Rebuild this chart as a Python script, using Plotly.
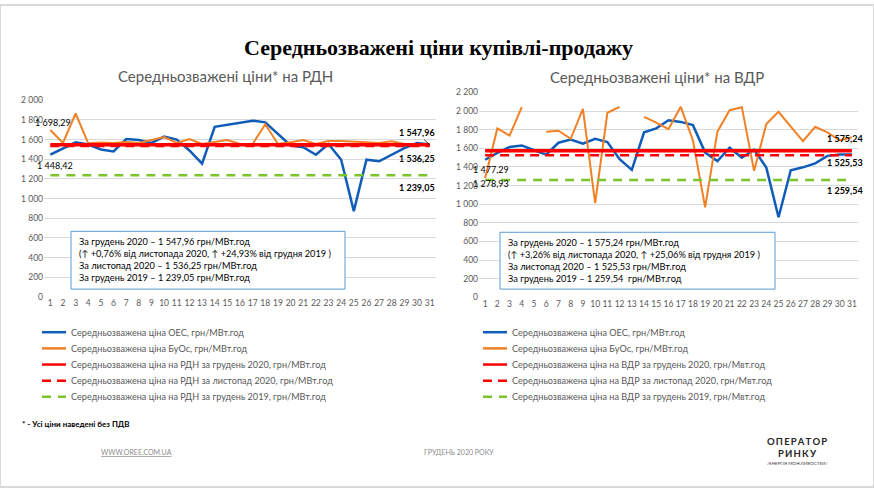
#!/usr/bin/env python3
# -*- coding: utf-8 -*-
"""
Середньозважені ціни купівлі-продажу: РДН та ВДР, грудень 2020
"""

import plotly.graph_objects as go

# Дні місяця
days = list(range(1, 32))

# РДН: ціна ОЕС та БуОс, грн/МВт.год
rdn_oes = [1448.42, 1513, 1573, 1550, 1500, 1480, 1606, 1596, 1566, 1630, 1600, 1490, 1356, 1730, 1750, 1773,
           1793, 1776, 1656, 1540, 1523, 1446, 1556, 1396, 873, 1396, 1380, 1446, 1513, 1566, 1550]
rdn_buos = [1698.29, 1566, 1866, 1563, 1570, 1566, 1576, 1566, 1596, 1626, 1566, 1606, 1556, 1573, 1596, 1556,
            1556, 1756, 1556, 1573, 1596, 1556, 1586, 1586, 1576, 1573, 1566, 1583, 1556, 1550, 1556]

# ВДР: ціна ОЕС та БуОс (пропуски там, де торгів не було)
vdr_oes = [1477.29, 1551, 1614, 1631, 1579, 1533, 1660, 1695, 1649, 1702, 1667, 1484, 1368, 1772, 1814, 1902,
           1884, 1849, 1554, 1463, 1607, 1498, 1586, 1393, 860, 1365, 1396, 1439, 1519, 1533, 1533]
vdr_buos = [1278.93, 1814, 1737, 2042, None, 1779, 1789, 1702, 2025, 1010, 1982, 2046, None, 1937, 1877, 1807,
            2046, 1684, 965, 1779, 2010, 2042, 1358, 1860, 1993, 1832, 1677, 1832, 1772, 1684, 1719]

# Середні за періоди
rdn_dec2020, rdn_nov2020, rdn_dec2019 = 1547.96, 1536.25, 1239.05
vdr_dec2020, vdr_nov2020, vdr_dec2019 = 1575.24, 1525.53, 1259.54

rdn_legend = [
    "Середньозважена ціна ОЕС, грн/МВт.год",
    "Середньозважена ціна БуОс, грн/МВт.год",
    "Середньозважена ціна на РДН за грудень 2020, грн/МВт.год",
    "Середньозважена ціна на РДН за листопад 2020, грн/МВт.год",
    "Середньозважена ціна на РДН за грудень 2019, грн/МВт.год",
]
vdr_legend = [
    "Середньозважена ціна ОЕС, грн/МВт.год",
    "Середньозважена ціна БуОс, грн/МВт.год",
    "Середньозважена ціна на ВДР за грудень 2020, грн/Мвт.год",
    "Середньозважена ціна на ВДР за листопад 2020, грн/Мвт.год",
    "Середньозважена ціна на ВДР за грудень 2019, грн/Мвт.год",
]
rdn_box = [
    "За грудень 2020 – 1 547,96 грн/МВт.год",
    "(↑ +0,76% від листопада 2020, ↑ +24,93% від грудня 2019 )",
    "За листопад 2020 – 1 536,25 грн/МВт.год",
    "За грудень 2019 – 1 239,05 грн/МВт.год",
]
vdr_box = [
    "За грудень 2020 – 1 575,24 грн/МВт.год",
    "(↑ +3,26% від листопада 2020, ↑ +25,06% від грудня 2019 )",
    "За листопад 2020 – 1 525,53 грн/МВт.год",
    "За грудень 2019 – 1 259,54  грн/МВт.год",
]

W, H = 874, 492
FONT = "Lato"
GREY = "#595959"
BLUE = "#0F5DB8"
ORANGE = "#F28025"
RED = "#FF0000"
GREEN = "#7CC42C"


def px(x):
    return x / W


def py(y):
    return 1 - y / H


def fmt(v):
    """1698.29 -> '1 698,29'"""
    return f"{v:,.2f}".replace(",", " ").replace(".", ",")


def note(text, x, y, size, color=GREY, family=FONT, xanchor="center"):
    """Текст у координатах пікселів сторінки"""
    return dict(text=text, x=px(x), y=py(y), xref="paper", yref="paper", xanchor=xanchor,
                yanchor="middle", showarrow=False, font=dict(family=family, size=size, color=color))


# стилі п'яти серій
styles = [
    dict(color=BLUE, width=2.5),
    dict(color=ORANGE, width=2),
    dict(color=RED, width=3.5),
    dict(color=RED, width=2.5, dash="9px,6px"),
    dict(color=GREEN, width=2.5, dash="9px,7px"),
]

fig = go.Figure()


def add_panel(xa, ya, oes, buos, dec20, nov20, dec19, names):
    series = [oes, buos, [dec20] * len(days), [nov20] * len(days), [dec19] * len(days)]
    for s, st, nm in zip(series, styles, names):
        fig.add_trace(go.Scatter(
            x=days, y=s, mode="lines", name=nm, line=st,
            connectgaps=False, xaxis=xa, yaxis=ya, showlegend=False,
        ))


add_panel("x", "y", rdn_oes, rdn_buos, rdn_dec2020, rdn_nov2020, rdn_dec2019, rdn_legend)
add_panel("x2", "y2", vdr_oes, vdr_buos, vdr_dec2020, vdr_nov2020, vdr_dec2019, vdr_legend)

axis_x = dict(tickvals=days, range=[0.5, 31.5], showgrid=False, zeroline=False, showline=False,
              ticks="", tickfont=dict(family=FONT, size=8.5, color=GREY))
axis_y = dict(dtick=200, tickformat=",d", showgrid=True, gridcolor="#D9D9D9", gridwidth=1,
              zeroline=False, showline=False, ticks="", tickfont=dict(family=FONT, size=8.5, color=GREY))

fig.update_layout(
    width=W, height=H,
    margin=dict(l=0, r=0, t=0, b=0),
    paper_bgcolor="white", plot_bgcolor="white",
    separators=", ",
    showlegend=False,
    xaxis=dict(axis_x, domain=[px(44), px(436)], anchor="y"),
    yaxis=dict(axis_y, domain=[py(298), py(97.3)], range=[0, 2000], anchor="x"),
    xaxis2=dict(axis_x, domain=[px(479), px(858)], anchor="y2"),
    yaxis2=dict(axis_y, domain=[py(298.3), py(89.3)], range=[0, 2200], anchor="x2"),
)

ann = []

# заголовки
ann.append(note("<b>Середньозважені ціни купівлі-продажу</b>", 438, 43, 22, "black", "Liberation Serif"))
ann.append(note("Середньозважені ціни* на РДН", 225, 72, 15))
ann.append(note("Середньозважені ціни* на ВДР", 657, 74, 15))

# підписи значень
lab = dict(showarrow=False, xanchor="center", yanchor="middle", font=dict(family=FONT, size=9, color="black"))
ann += [
    dict(lab, text=fmt(rdn_buos[0]), x=1, y=rdn_buos[0], xref="x", yref="y", xshift=3, yshift=7),
    dict(lab, text=fmt(rdn_oes[0]), x=1, y=rdn_oes[0], xref="x", yref="y", xshift=5, yshift=-11),
    dict(lab, text="<b>" + fmt(rdn_dec2020) + "</b>", x=31, y=rdn_dec2020, xref="x", yref="y",
         showarrow=True, arrowhead=0, arrowwidth=0.8, arrowcolor="black", ax=-13, ay=-12),
    dict(lab, text="<b>" + fmt(rdn_nov2020) + "</b>", x=31, y=rdn_nov2020, xref="x", yref="y",
         xshift=-13, yshift=-13),
    dict(lab, text="<b>" + fmt(rdn_dec2019) + "</b>", x=31, y=rdn_dec2019, xref="x", yref="y",
         xshift=-13, yshift=-12),
    dict(lab, text=fmt(vdr_oes[0]), x=1, y=vdr_oes[0], xref="x2", yref="y2", xshift=6, yshift=-10),
    dict(lab, text=fmt(vdr_buos[0]), x=1, y=vdr_buos[0], xref="x2", yref="y2", xshift=6, yshift=-5),
    dict(lab, text="<b>" + fmt(vdr_dec2020) + "</b>", x=31, y=vdr_dec2020, xref="x2", yref="y2",
         xshift=-7, yshift=12),
    dict(lab, text="<b>" + fmt(vdr_nov2020) + "</b>", x=31, y=vdr_nov2020, xref="x2", yref="y2",
         xshift=-7, yshift=-7),
    dict(lab, text="<b>" + fmt(vdr_dec2019) + "</b>", x=31, y=vdr_dec2019, xref="x2", yref="y2",
         xshift=-7, yshift=-10),
]

shapes = []

# рамки з підсумками
for (x0, x1, y0, y1), lines in [((71, 345, 231, 290), rdn_box), ((500, 775, 232, 290), vdr_box)]:
    shapes.append(dict(type="rect", xref="paper", yref="paper", x0=px(x0), x1=px(x1), y0=py(y1), y1=py(y0),
                       line=dict(color="#5B9BD5", width=1), fillcolor="white", layer="above"))
    ann.append(dict(text="<br>".join(lines), x=px(x0 + 6), y=py(y0 + 3), xref="paper", yref="paper",
                    xanchor="left", yanchor="top", align="left", showarrow=False,
                    font=dict(family=FONT, size=9.2, color="black")))

# легенди
for lx, names in [(42, rdn_legend), (483, vdr_legend)]:
    for i, (nm, st) in enumerate(zip(names, styles)):
        yy = 334 + i * 16.5
        shapes.append(dict(type="line", xref="paper", yref="paper", x0=px(lx), x1=px(lx + 24),
                           y0=py(yy), y1=py(yy),
                           line=dict(color=st["color"], width=2.5, dash=st.get("dash", "solid"))))
        ann.append(note(nm, lx + 27, yy, 9.1, xanchor="left"))

# примітка та нижній колонтитул
ann += [
    note("<b>* - Усі ціни наведені без ПДВ</b>", 20, 428, 8, "black", xanchor="left"),
    note("<u>WWW.OREE.COM.UA</u>", 136, 456, 7, "#8C8C8C"),
    note("ГРУДЕНЬ 2020 РОКУ", 459, 456, 7, "#8C8C8C"),
    note("<b>О\u2009П\u2009Е\u2009Р\u2009А\u2009Т\u2009О\u2009Р</b>", 797, 446, 9.5, "#262626"),
    note("<b>Р\u2009И\u2009Н\u2009К\u2009У</b>", 797, 458, 9.5, "#262626"),
    note("/ЕНЕРГІЯ МОЖЛИВОСТЕЙ/", 797, 468, 4.5, "#404040"),
]

# рамка слайда
shapes.append(dict(type="rect", xref="paper", yref="paper", x0=0, x1=1, y0=0, y1=1,
                   line=dict(color="#D9D9D9", width=2)))

fig.update_layout(annotations=ann, shapes=shapes)

fig.write_html("out.html", config={"displayModeBar": False},
               post_script="document.body.style.margin='0';")
